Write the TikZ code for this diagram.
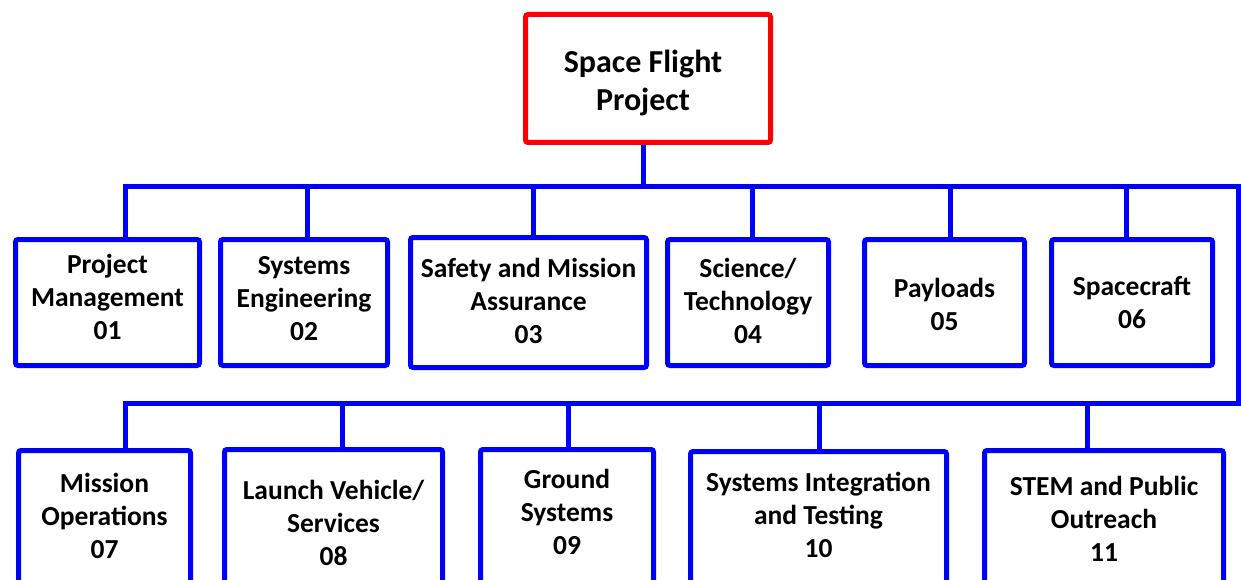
\documentclass[tikz,border=0pt]{standalone}
\usepackage{fontspec}
\setmainfont{Carlito}
\tikzset{
  box/.style={draw=blue, line width=5pt, rounded corners=2.5pt, inner sep=0pt, fill=white},
  lbl/.style={align=center, inner sep=0pt, font=\fontsize{27.5}{33}\selectfont\bfseries},
  conn/.style={draw=blue, line width=5pt, line join=miter},
}
\begin{document}
\begin{tikzpicture}[x=1pt, y=-1pt]
\useasboundingbox (0,0) rectangle (1241,580);
\clip (0,0) rectangle (1241,580);
% root
\node[box, draw=red, minimum width=245pt, minimum height=128pt] (top) at (648,78.5) {};
\node[lbl, font=\fontsize{32}{38}\selectfont\bfseries] (topt) at (643,83) {Space Flight\\Project};
% top row
\node[box, minimum width=184pt, minimum height=126pt] (b1) at (107.5,302.5) {};
\node[box, minimum width=167pt, minimum height=126pt] (b2) at (304,302.5) {};
\node[box, minimum width=236pt, minimum height=130pt] (b3) at (528.5,302.5) {};
\node[box, minimum width=161pt, minimum height=126pt] (b4) at (748,302.5) {};
\node[box, minimum width=160pt, minimum height=126pt] (b5) at (944.5,302.5) {};
\node[box, minimum width=161pt, minimum height=126pt] (b6) at (1132,302.5) {};
\node[lbl] (b1t) at (107.5,296.5) {Project\\Management\\01};
\node[lbl] (b2t) at (304,299) {Systems\\Engineering\\02};
\node[lbl] (b3t) at (528.5,301) {Safety and Mission\\Assurance\\03};
\node[lbl] (b4t) at (748,300.5) {Science/\\Technology\\04};
\node[lbl] (b5t) at (944.5,304.5) {Payloads\\05};
\node[lbl] (b6t) at (1132,303) {Spacecraft\\06};
% bottom row
\node[box, minimum width=172pt, minimum height=133pt] (b7) at (104.5,517) {};
\node[box, minimum width=218pt, minimum height=149pt] (b8) at (333.5,524) {};
\node[box, minimum width=173pt, minimum height=133pt] (b9) at (567,516) {};
\node[box, minimum width=256pt, minimum height=131pt] (b10) at (818.5,517) {};
\node[box, minimum width=239pt, minimum height=137pt] (b11) at (1104,519) {};
\node[lbl] (b7t) at (104.5,516) {Mission\\Operations\\07};
\node[lbl] (b8t) at (333.5,523) {Launch Vehicle/\\Services\\08};
\node[lbl] (b9t) at (567,512) {Ground\\Systems\\09};
\node[lbl] (b10t) at (818.5,514.5) {Systems Integration\\and Testing\\10};
\node[lbl] (b11t) at (1104,519) {STEM and Public\\Outreach\\11};
% bus coordinates
\coordinate (t0) at (643,187);
\coordinate (t1) at (125,187);
\coordinate (t2) at (307,187);
\coordinate (t3) at (533,187);
\coordinate (t4) at (752,187);
\coordinate (t5) at (950,187);
\coordinate (t6) at (1126,187);
\coordinate (tr) at (1238.5,187);
\coordinate (br) at (1238.5,403);
\coordinate (t7) at (125,403);
\coordinate (t8) at (342,403);
\coordinate (t9) at (568,403);
\coordinate (t10) at (819,403);
\coordinate (t11) at (1087,403);
% connectors
\draw[conn] (top.south -| t0) -- (t0);
\draw[conn] (t1 |- b1.north) -- (t1) -- (tr) -- (br) -- (t7) -- (t7 |- b7.north);
\foreach \i in {2,3,4,5,6,8,9,10,11}
  \draw[conn] (t\i) -- (t\i |- b\i.north);
\end{tikzpicture}
\end{document}
